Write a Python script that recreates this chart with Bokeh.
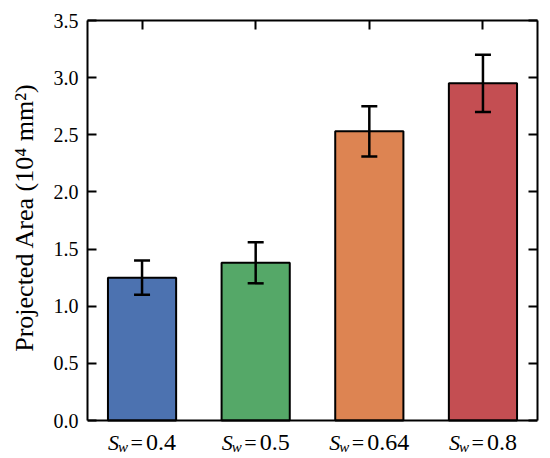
from bokeh.plotting import figure
from bokeh.models import (ColumnDataSource, Whisker, TeeHead, LinearAxis, FixedTicker,
                          Range1d, Label, Span, PrintfTickFormatter)
from bokeh.embed import file_html
from bokeh.resources import INLINE

categories = ["0.4", "0.5", "0.64", "0.8"]
means = [1.25, 1.38, 2.53, 2.95]
err_low = [1.10, 1.20, 2.31, 2.70]
err_high = [1.40, 1.56, 2.75, 3.20]
colors = ["#4c72b0", "#55a868", "#dd8452", "#c44e52"]
y_ticks = [0.0, 0.5, 1.0, 1.5, 2.0, 2.5, 3.0, 3.5]

FONT = "Liberation Serif"
xs = list(range(len(categories)))
YMAX = 3.5
PX = 400 / YMAX  # pixels per data unit on y

src = ColumnDataSource(dict(x=xs, top=means, lower=err_low, upper=err_high, color=colors))

p = figure(width=550, height=458, output_backend="svg", toolbar_location=None,
           x_range=Range1d(-0.48, 3.48), y_range=Range1d(-38 / PX, YMAX),
           min_border_left=87, min_border_right=13, min_border_top=20, min_border_bottom=0)
p.xgrid.visible = False
p.ygrid.visible = False
p.outline_line_color = None
p.background_fill_color = "white"
p.border_fill_color = "white"
p.xaxis.visible = False

p.vbar(x="x", top="top", width=0.6, bottom=0, fill_color="color", line_color="black",
       line_width=2, source=src)

w = Whisker(base="x", lower="lower", upper="upper", source=src, line_color="black",
            line_width=2.5, level="overlay",
            upper_head=TeeHead(size=16, line_width=2.5, line_color="black"),
            lower_head=TeeHead(size=16, line_width=2.5, line_color="black"))
p.add_layout(w)

# bottom frame line at y = 0
p.add_layout(Span(location=0, dimension="width", line_color="black", line_width=2))

def style_axis(ax):
    ax.axis_line_width = 2
    ax.axis_line_color = "black"
    ax.major_tick_in = 9
    ax.major_tick_out = 0
    ax.minor_tick_line_color = None
    ax.major_tick_line_width = 2
    ax.major_tick_line_color = "black"
    ax.major_label_text_font = FONT
    ax.major_label_text_color = "black"

# left axis
ya = p.yaxis[0]
ya.ticker = FixedTicker(ticks=y_ticks)
ya.bounds = (0, YMAX)
ya.formatter = PrintfTickFormatter(format="%.1f")
style_axis(ya)
ya.major_label_text_font_size = "20px"
ya.major_label_standoff = 9
# leading wide spaces lift the visible label so it is centred on the 0-3.5 span
ya.axis_label = "\u2003\u2002\u2009Projected Area (10\u2074 mm\u00b2)"
ya.axis_label_text_font = FONT
ya.axis_label_text_font_style = "normal"
ya.axis_label_text_font_size = "26px"
ya.axis_label_text_color = "black"
ya.axis_label_standoff = 12

# right axis
ra = LinearAxis(ticker=FixedTicker(ticks=y_ticks), bounds=(0, YMAX))
style_axis(ra)
ra.major_label_text_font_size = "1px"
ra.major_label_overrides = {t: " " for t in y_ticks}
ra.major_label_standoff = 0
p.add_layout(ra, "right")

# top axis
ta = LinearAxis(ticker=FixedTicker(ticks=xs))
style_axis(ta)
ta.major_label_text_font_size = "1px"
ta.major_label_overrides = {i: " " for i in xs}
ta.major_label_standoff = 0
p.add_layout(ta, "above")

# category labels: italic S with subscript w, then "= value"
FS = 22
VFS = 24
SUB = 15
digit_w = {"0": 0.5, "1": 0.5, "2": 0.5, "3": 0.5, "4": 0.5, "5": 0.5, "6": 0.5,
           "7": 0.5, "8": 0.5, "9": 0.5, ".": 0.25}
y_base = -22 / PX
y_sub = -26 / PX
for i, c in enumerate(categories):
    val_w = sum(digit_w[ch] for ch in c) * VFS
    total = 38 + val_w
    start = -total / 2
    common = dict(text_font=FONT, text_align="left", text_baseline="alphabetic",
                  text_color="black")
    p.add_layout(Label(x=i, y=y_base, x_offset=start, text="S", text_font_style="italic",
                       text_font_size=f"{FS}px", **common))
    p.add_layout(Label(x=i, y=y_sub, x_offset=start + 10, text="w", text_font_style="italic",
                       text_font_size=f"{SUB}px", **common))
    p.add_layout(Label(x=i, y=y_base, x_offset=start + 22.5, text="=",
                       text_font_size=f"{FS}px", **common))
    p.add_layout(Label(x=i, y=y_base, x_offset=start + 38, text=c,
                       text_font_size=f"{VFS}px", **common))

open("out.html", "w").write(file_html(p, INLINE))
